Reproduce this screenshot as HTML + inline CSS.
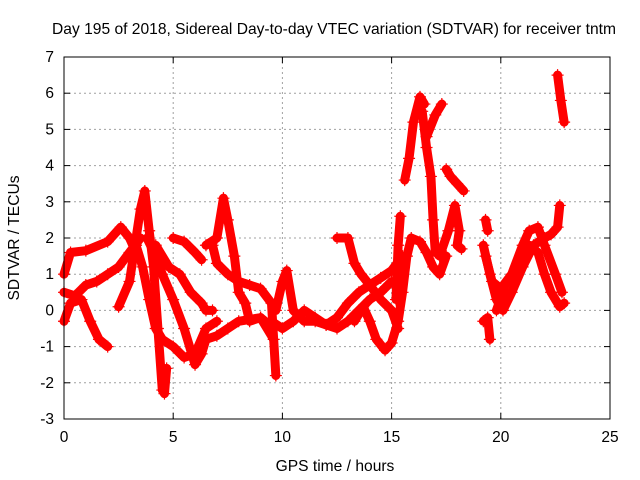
<!DOCTYPE html>
<html><head><meta charset="utf-8"><style>
body{margin:0;background:#fff}
svg{display:block;font-family:"Liberation Sans",sans-serif}
</style></head><body>
<svg id="c" width="640" height="480"></svg>
<script>
const xTicks=[0,5,10,15,20,25];
const yTicks=[-3,-2,-1,0,1,2,3,4,5,6,7];
const trackA=[[0,1.0],[0.3,1.6],[1,1.65],[2,1.9],[2.6,2.3],[3,2.0],[3.3,1.6]];
const trackB=[[0,0.5],[0.5,0.4],[1,0.7],[1.5,0.8],[2,1.0],[2.5,1.2],[3,1.6],[3.5,2.0]];
const trackC=[[0,-0.3],[0.3,0.2],[0.8,0.3],[1.2,-0.3],[1.6,-0.8],[2,-1.0]];
const trackD=[[2.5,0.1],[3,0.8],[3.5,2.8],[3.7,3.3],[3.9,2.2],[4.1,1.2],[4.3,-0.5],[4.5,-2.2],[4.6,-2.3],[4.7,-1.6]];
const trackE=[[3.8,2.0],[4.2,1.5],[4.5,1.0],[5,0.3],[5.5,-0.5],[6,-1.5],[6.3,-1.2],[6.5,-0.8],[7,-0.7],[7.5,-0.5],[8,-0.3],[9,-0.2],[9.6,-0.8]];
const trackF=[[4.2,1.8],[4.8,1.2],[5.3,1.0],[5.8,0.5],[6.3,0.2],[6.5,0.0],[6.8,0.0]];
const trackG=[[3.3,1.8],[3.6,1.2],[3.9,0.3],[4.2,-0.5],[4.5,-0.8],[5,-1.0],[5.5,-1.3],[6,-1.2],[6.5,-0.5],[7,-0.3]];
const trackH=[[5,2.0],[5.5,1.9],[6,1.6],[6.3,1.4]];
const trackI=[[6.5,1.8],[7,2.0],[7.3,3.1],[7.5,2.5],[7.8,1.5],[8,0.5],[8.3,0.2],[8.5,-0.3],[9,-0.2],[9.4,-0.4]];
const trackJ=[[6.8,1.8],[7,1.3],[7.5,1.0],[8,0.8],[8.5,0.7],[9,0.6],[9.5,0.2],[9.7,-1.8]];
const trackK=[[9.7,0],[10,0.8],[10.2,1.1],[10.5,0],[11,-0.3],[11.5,-0.3],[12,-0.4],[12.5,-0.5],[13,-0.3],[13.5,0.0],[14,0.3],[14.5,0.5],[15,0.8]];
const trackL=[[9.5,-0.3],[10,-0.5],[10.5,-0.3],[11,0.0],[11.5,-0.2],[12,-0.4],[12.5,-0.2],[13,0.2],[13.5,0.5],[14,0.7],[14.5,0.9],[15,1.1],[15.5,1.5]];
const trackM=[[12.5,2.0],[13,2.0],[13.3,1.3],[13.6,1.0],[14,0.7],[14.5,0.3],[15,0.0],[15.3,-0.5]];
const trackN=[[13.3,-0.3],[13.7,0.1],[14,-0.3],[14.3,-0.8],[14.7,-1.1],[15,-0.9],[15.3,-0.3],[15.5,0.5],[15.7,1.5],[15.9,2.0],[16.3,1.9],[16.6,1.6],[16.9,1.2],[17.2,1.0],[17.5,1.5]];
const trackO=[[15.2,0.3],[15.3,1.8],[15.4,2.6]];
const trackP=[[15.6,3.6],[15.8,4.2],[16,5.2],[16.3,5.9],[16.5,5.7]];
const trackQ=[[16.4,5.5],[16.6,4.5],[16.8,3.7],[16.9,2.5],[17.0,1.6],[17.3,1.6]];
const trackR=[[16.6,4.8],[17,5.4],[17.3,5.7]];
const trackS=[[17.5,3.9],[17.7,3.7],[18,3.5],[18.3,3.3]];
const trackT=[[17.2,1.5],[17.6,2.2],[17.9,2.9],[18.1,2.2],[18,1.8],[18.2,1.7]];
const trackU=[[19.2,1.8],[19.5,1.0],[19.8,0.3],[20.1,0.0],[20.5,0.5],[21,1.2],[21.5,1.8],[22,2.0],[22.3,2.1],[22.6,2.3],[22.7,2.9]];
const trackV=[[19.3,1.5],[19.6,0.8],[20,0.6],[20.5,1.0],[21,1.8],[21.3,2.2],[21.7,2.3],[22,1.8],[22.5,1.0],[22.8,0.5]];
const trackW=[[19.8,0.0],[20.2,0.7],[20.8,1.2],[21.3,1.8],[21.7,1.6],[22,1.0],[22.3,0.5],[22.7,0.1],[22.9,0.2]];
const trackX=[[19.2,-0.3],[19.4,-0.2],[19.5,-0.8]];
const trackY=[[22.6,6.5],[22.75,5.8],[22.9,5.2]];
const trackZ=[[19.3,2.5],[19.4,2.2]];
const tracks=[trackA,trackB,trackC,trackD,trackE,trackF,trackG,trackH,trackI,trackJ,trackK,trackL,trackM,trackN,trackO,trackP,trackQ,trackR,trackS,trackT,trackU,trackV,trackW,trackX,trackY,trackZ];

const L=64,R=610,T=57,B=419;
const sx=h=>L+(h-0)/(25-0)*(R-L);
const sy=v=>B-(v+3)/(7+3)*(B-T);
const NS="http://www.w3.org/2000/svg";
const svg=document.getElementById('c');
function mk(tag,attrs,parent){const e=document.createElementNS(NS,tag);for(const k in attrs)e.setAttribute(k,attrs[k]);(parent||svg).appendChild(e);return e;}

const grid=mk('g',{});


xTicks.forEach(t=>{
  if(t>0&&t<25){const l=mk('line',{x1:sx(t),x2:sx(t),y1:T,y2:B,stroke:'#a0a0a0','stroke-dasharray':'2,3'},grid);
  
  }
  const tk=mk('line',{x1:sx(t),x2:sx(t),y1:B,y2:B-6,stroke:'#000'});
  
  
  const tk2=mk('line',{x1:sx(t),x2:sx(t),y1:T,y2:T+6,stroke:'#000'});
  
  
  const tx=mk('text',{x:sx(t),y:B+23,'text-anchor':'middle','font-size':15.5});
  tx.textContent=t;
  
  
});
yTicks.forEach(t=>{
  if(t>-3&&t<7){const l=mk('line',{x1:L,x2:R,y1:sy(t),y2:sy(t),stroke:'#a0a0a0','stroke-dasharray':'2,3'},grid);
  
  }
  const tk=mk('line',{x1:L,x2:L+6,y1:sy(t),y2:sy(t),stroke:'#000'});
  
  
  const tk2=mk('line',{x1:R,x2:R-6,y1:sy(t),y2:sy(t),stroke:'#000'});
  
  
  const tx=mk('text',{x:L-10,y:sy(t)+5,'text-anchor':'end','font-size':15.5});
  tx.textContent=t;
  
  
});

const data=mk('g',{fill:'none',stroke:'#ff0000'});


tracks.forEach(tr=>{
  const pl=mk('polyline',{points:tr.map(p=>sx(p[0])+','+sy(p[1])).join(' '),'stroke-width':9,'stroke-linejoin':'round','stroke-linecap':'round'},data);
  
  
  tr.forEach(p=>{
    const x=sx(p[0]),y=sy(p[1]);
    const m=mk('path',{d:`M${x-6},${y}H${x+6}M${x},${y-6}V${y+6}`,'stroke-width':1.2},data);
    
    
  });
});

const frame=mk('rect',{x:L,y:T,width:R-L,height:B-T,fill:'none',stroke:'#000'});



const title=mk('text',{x:334,y:34,'text-anchor':'middle','font-size':15.6});
title.textContent='Day 195 of 2018, Sidereal Day-to-day VTEC variation (SDTVAR) for receiver tntm';


const xl=mk('text',{x:335,y:471,'text-anchor':'middle','font-size':15.6});
xl.textContent='GPS time / hours';


const yl=mk('text',{x:0,y:0,'text-anchor':'middle','font-size':15.6,transform:'translate(19,238) rotate(-90)'});
yl.textContent='SDTVAR / TECUs';


</script>
</body></html>
